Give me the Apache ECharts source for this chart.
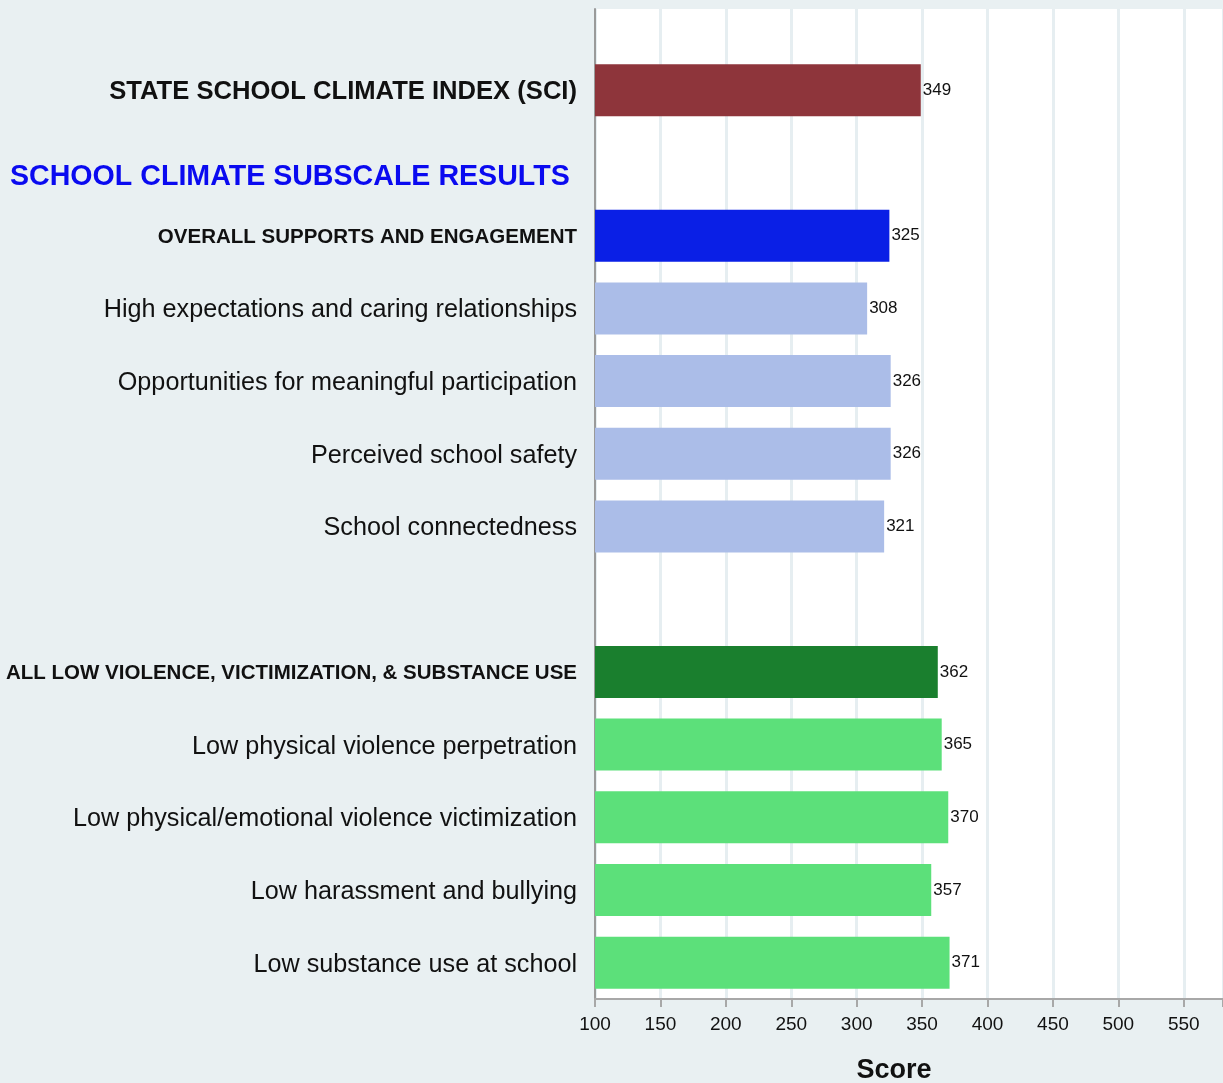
<!DOCTYPE html>
<html>
<head>
<meta charset="utf-8">
<script src="https://cdn.jsdelivr.net/npm/echarts@6/dist/echarts.min.js"></script>
<style>
  html, body { margin: 0; padding: 0; background: #e9f0f2; }
  #chart { width: 1223px; height: 1083px; }
</style>
</head>
<body>
<div id="chart"></div>
<script>
// rows from top to bottom, blank rows are gaps
const categories = [
  "STATE SCHOOL CLIMATE INDEX (SCI)",
  "",
  "OVERALL SUPPORTS AND ENGAGEMENT",
  "High expectations and caring relationships",
  "Opportunities for meaningful participation",
  "Perceived school safety",
  "School connectedness",
  "",
  "ALL LOW VIOLENCE, VICTIMIZATION, & SUBSTANCE USE",
  "Low physical violence perpetration",
  "Low physical/emotional violence victimization",
  "Low harassment and bullying",
  "Low substance use at school"
];
// kind of each row: index, supports / violence summary or subscale
const rowKinds = ["sci", "", "supAll", "sup", "sup", "sup", "sup", "", "vioAll", "vio", "vio", "vio", "vio"];
const scores = [349, null, 325, 308, 326, 326, 321, null, 362, 365, 370, 357, 371];
const xTicks = [100, 150, 200, 250, 300, 350, 400, 450, 500, 550];
const subscaleHeading = "SCHOOL CLIMATE SUBSCALE RESULTS";

const FONT = "Liberation Sans, Arial, sans-serif";
const kindColor = {
  sci: "#8e353b",
  supAll: "#0a1fe6",
  sup: "#abbde8",
  vioAll: "#1a7f2e",
  vio: "#5ce07a"
};
const kindLabel = { sci: "sci", supAll: "head", vioAll: "head", sup: "item", vio: "item" };

const chart = echarts.init(document.getElementById("chart"));

const xAxisBase = {
  type: "value",
  min: xTicks[0],
  max: 580,
  interval: 50,
  splitLine: { show: true, lineStyle: { color: "#e6eef1", width: 3 } }
};

chart.setOption({
  backgroundColor: "#e9f0f2",
  textStyle: { fontFamily: FONT },
  animation: false,
  grid: [
    // blank strip above the first row
    { left: 595, right: 0, top: 9, height: 45, show: true, backgroundColor: "#fff", borderWidth: 0, outerBoundsMode: "none" },
    { left: 595, right: 0, top: 54, bottom: 84, show: true, backgroundColor: "#fff", borderWidth: 0, outerBoundsMode: "none" }
  ],
  xAxis: [
    Object.assign({}, xAxisBase, {
      gridIndex: 0,
      axisLine: { show: false },
      axisTick: { show: false },
      axisLabel: { show: false }
    }),
    Object.assign({}, xAxisBase, {
      gridIndex: 1,
      name: "Score",
      nameLocation: "middle",
      nameGap: 58,
      nameTextStyle: { fontSize: 27, fontWeight: "bold", color: "#111", fontFamily: FONT, padding: [0, 30, 0, 0] },
      axisLine: { show: true, lineStyle: { color: "#a8a8a8", width: 2 } },
      axisTick: { show: true, length: 8, lineStyle: { color: "#a8a8a8", width: 2 } },
      axisLabel: {
        fontSize: 19,
        color: "#111",
        fontFamily: FONT,
        margin: 16,
        formatter: v => (v > 550 ? "" : String(v))
      }
    })
  ],
  yAxis: [
    {
      type: "category",
      gridIndex: 0,
      data: [""],
      axisLine: { show: true, lineStyle: { color: "#9a9a9a", width: 2 } },
      axisTick: { show: false },
      axisLabel: { show: false }
    },
    {
      type: "category",
      gridIndex: 1,
      inverse: true,
      data: categories,
      axisLine: { show: true, lineStyle: { color: "#9a9a9a", width: 2 } },
      axisTick: { show: false },
      axisLabel: {
        margin: 18,
        formatter: (v, i) => {
          const k = kindLabel[rowKinds[i]];
          return k ? "{" + k + "|" + v + "}" : "";
        },
        rich: {
          sci: { fontSize: 25.6, fontWeight: "bold", color: "#111", fontFamily: FONT, padding: [4, 0, 0, 0] },
          head: { fontSize: 20.5, fontWeight: "bold", color: "#111", fontFamily: FONT, padding: [3, 0, 0, 0] },
          item: { fontSize: 25.2, color: "#111", fontFamily: FONT, padding: [4, 0, 0, 0] }
        }
      }
    }
  ],
  graphic: [
    {
      type: "text",
      left: 10,
      top: 163,
      style: {
        text: subscaleHeading,
        fontSize: 28.6,
        fontWeight: "bold",
        fill: "#0a0af0",
        fontFamily: FONT
      }
    }
  ],
  series: [
    {
      type: "bar",
      xAxisIndex: 1,
      yAxisIndex: 1,
      barWidth: 52,
      data: scores.map((v, i) => ({
        value: v,
        itemStyle: { color: kindColor[rowKinds[i]] || "#fff" }
      })),
      label: {
        show: true,
        position: "right",
        distance: 2,
        fontSize: 17,
        color: "#111",
        fontFamily: FONT,
        formatter: p => (p.value == null ? "" : p.value)
      }
    }
  ]
});
</script>
</body>
</html>
